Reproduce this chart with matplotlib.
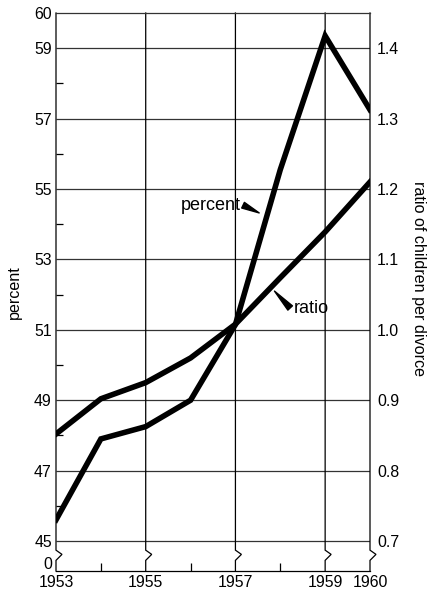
import matplotlib
matplotlib.use('Agg')
import matplotlib.pyplot as plt
import matplotlib.ticker as ticker

plt.rcParams['font.family'] = ['Liberation Sans', 'DejaVu Sans']

# data
years = [1953, 1954, 1955, 1956, 1957, 1958, 1959, 1960]
percent = [45.6, 47.9, 48.25, 49.0, 51.15, 55.55, 59.35, 57.25]
ratio = [0.852, 0.902, 0.925, 0.960, 1.008, 1.074, 1.139, 1.210]

year_labels = ['1953', '1955', '1957', '1959', '1960']
year_ticks = [1953, 1955, 1957, 1959, 1960]
pct_ticks = [45, 47, 49, 51, 53, 55, 57, 59, 60]
ratio_ticks = [0.7, 0.8, 0.9, 1.0, 1.1, 1.2, 1.3, 1.4]

ybot, ytop = 44.148, 60.0
def to_ratio(p):
    return 0.7 + (p - 45) / 20.0

fig = plt.figure(figsize=(4.34, 5.90), dpi=100)
ax = fig.add_axes([56/434, 1 - 571/590, 314/434, 558/590])
ax.set_xlim(1953, 1960)
ax.set_ylim(ybot, ytop)

gc = '#333333'
ax.spines['left'].set_visible(False)
ax.spines['right'].set_visible(False)
ax.spines['top'].set_color(gc)
ax.spines['bottom'].set_color('black')
ax.spines['top'].set_linewidth(0.9)
ax.spines['bottom'].set_linewidth(0.9)

# horizontal grid
ax.hlines([45, 47, 49, 51, 53, 55, 57, 59], 1953, 1960, color=gc, lw=0.9, zorder=1)

# vertical lines with the break zigzag
dx = 6 / 45.0
for x in year_ticks:
    ax.plot([x, x, x + dx, x, x], [ytop, 44.74, 44.62, 44.45, ybot],
            color='black', lw=0.9, clip_on=False, zorder=1, solid_joinstyle='miter')

ax.set_xticks(year_ticks)
ax.set_xticklabels(year_labels)
ax.xaxis.set_minor_locator(ticker.FixedLocator([1954, 1956, 1958]))
ax.tick_params(axis='x', which='major', length=0, pad=3, labelsize=11.4)
ax.tick_params(axis='x', which='minor', direction='in', length=6, width=0.9)

ax.set_yticks(pct_ticks)
ax.set_yticklabels([str(t) for t in pct_ticks])
ax.yaxis.set_minor_locator(ticker.FixedLocator([46, 48, 50, 52, 54, 56, 58]))
ax.tick_params(axis='y', which='major', length=0, pad=3, labelsize=11.4)
ax.tick_params(axis='y', which='minor', direction='in', length=5, width=0.9)
ax.annotate('0', xy=(1953, 44.34), xytext=(-3, 0), textcoords='offset points',
            ha='right', va='center', fontsize=11.4, annotation_clip=False)

ax.set_ylabel('percent', fontsize=11.6)
ax.yaxis.set_label_coords(-0.108, 0.5)

ax2 = ax.twinx()
ax2.set_ylim(to_ratio(ybot), to_ratio(ytop))
for s in ax2.spines.values():
    s.set_visible(False)
ax2.set_yticks(ratio_ticks)
ax2.yaxis.set_major_formatter(ticker.FormatStrFormatter('%.1f'))
ax2.tick_params(axis='y', length=0, pad=5, labelsize=11.4)
ax2.set_ylabel('ratio of children per divorce', rotation=270, fontsize=11.6)
ax2.yaxis.set_label_coords(1.178, 0.525)

ax.plot(years, percent, color='black', lw=4, zorder=3, solid_joinstyle='miter')
ax2.plot(years, ratio, color='black', lw=4, zorder=3, solid_joinstyle='miter')

ax2.text(1957.13, 54.52, 'percent', transform=ax.transData, ha='right', va='center', fontsize=13)
ax2.annotate('', xy=(1957.53, 54.32), xytext=(1957.17, 54.54), xycoords=ax.transData,
             textcoords=ax.transData,
             arrowprops=dict(arrowstyle='wedge,tail_width=0.45', color='black',
                             shrinkA=0, shrinkB=0))
ax2.text(1958.31, 51.6, 'ratio', transform=ax.transData, ha='left', va='center', fontsize=13)
ax2.annotate('', xy=(1957.87, 52.10), xytext=(1958.22, 51.62), xycoords=ax.transData,
             textcoords=ax.transData,
             arrowprops=dict(arrowstyle='wedge,tail_width=0.45', color='black',
                             shrinkA=0, shrinkB=0))

fig.savefig('out.png', dpi=100)
